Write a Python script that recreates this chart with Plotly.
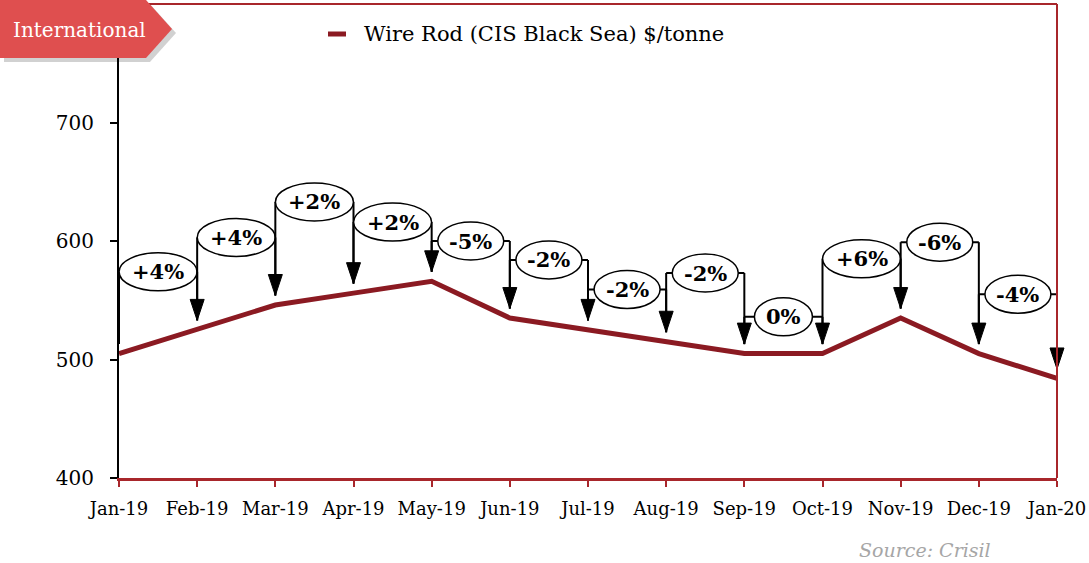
import plotly.graph_objects as go

# data
months = ["Jan-19", "Feb-19", "Mar-19", "Apr-19", "May-19", "Jun-19", "Jul-19",
          "Aug-19", "Sep-19", "Oct-19", "Nov-19", "Dec-19", "Jan-20"]
price = [505, 525, 546, 556, 566, 535, 525, 515, 505, 505, 535, 505, 484]
changes = ["+4%", "+4%", "+2%", "+2%", "-5%", "-2%", "-2%", "-2%", "0%", "+6%", "-6%", "-4%"]
# height (in $/tonne) at which each change bubble sits
bubble_level = [574, 603, 633, 616, 600, 584, 559, 573, 536, 585, 599, 555]

LINE_RED = "#8B1A22"
FRAME_RED = "#A8262B"
SERIF = "DejaVu Serif"

# figure geometry (pixels)
W, H = 1089, 563
L, R, T, B = 119, 32, 4, 85
PW, PH = W - L - R, H - T - B
N = len(months) - 1  # x axis runs 0..N


def px(x):
    return (x - L) / PW


def py(y):
    return (H - B - y) / PH


def xp(i):
    # x position (paper) of month index i, so brackets are not clipped at the frame
    return i / N


def bubble_width(s):
    w = {"+": 20, "-": 8, "%": 20}
    return 24 + sum(w.get(c, 14) for c in s)


fig = go.Figure()
fig.add_trace(go.Scatter(
    x=list(range(len(months))), y=price, mode="lines",
    line=dict(color=LINE_RED, width=5), showlegend=False, hoverinfo="skip",
))

shapes = []
annotations = []
gap = 8
blk = dict(color="black", width=2)
for i, lab in enumerate(changes):
    lvl = bubble_level[i]
    tip_l = price[i] + gap
    tip_r = price[i + 1] + gap
    # left riser, top bar, right drop
    shapes.append(dict(type="line", xref="paper", x0=xp(i), x1=xp(i), y0=tip_l, y1=lvl, line=blk))
    shapes.append(dict(type="line", xref="paper", x0=xp(i), x1=xp(i + 1), y0=lvl, y1=lvl, line=blk))
    shapes.append(dict(type="line", xref="paper", x0=xp(i + 1), x1=xp(i + 1), y0=lvl, y1=tip_r, line=blk))
    # arrowhead
    shapes.append(dict(type="path", xref="paper", xsizemode="pixel", ysizemode="pixel",
                       xanchor=xp(i + 1), yanchor=tip_r,
                       path="M-7,21 L7,21 L0,0 Z",
                       fillcolor="black", line=dict(color="black", width=1)))
    # bubble
    bw = bubble_width(lab)
    shapes.append(dict(type="circle", xsizemode="pixel", ysizemode="pixel",
                       xanchor=i + 0.5, yanchor=lvl,
                       x0=-bw / 2, x1=bw / 2, y0=-19, y1=19,
                       fillcolor="white", line=dict(color="black", width=1.5)))
    annotations.append(dict(x=i + 0.5, y=lvl, text="<b>%s</b>" % lab, showarrow=False,
                            xanchor="center", yanchor="middle",
                            font=dict(family=SERIF, size=21, color="black")))

# frame top / right
shapes.append(dict(type="line", xref="paper", yref="paper", x0=0, x1=1, y0=1, y1=1,
                   line=dict(color=FRAME_RED, width=2)))
shapes.append(dict(type="line", xref="paper", yref="paper", x0=1, x1=1, y0=0, y1=1,
                   line=dict(color=FRAME_RED, width=2)))


# "International" tag with shadow
def tag_path(dx, dy):
    pts = [(0, 0), (146, 0), (172, 29), (146, 58), (0, 58)]
    return "M" + " L".join("%.4f,%.4f" % (px(x + dx), py(y + dy)) for x, y in pts) + " Z"


shapes.append(dict(type="path", xref="paper", yref="paper", path=tag_path(4, 4),
                   fillcolor="rgba(0,0,0,0.18)", line=dict(width=0)))
shapes.append(dict(type="path", xref="paper", yref="paper", path=tag_path(0, 0),
                   fillcolor="#DF4F4F", line=dict(width=0)))
annotations.append(dict(xref="paper", yref="paper", x=px(79), y=py(30), text="International",
                        xanchor="center", yanchor="middle", showarrow=False,
                        font=dict(family=SERIF, size=20, color="white")))

# legend
shapes.append(dict(type="line", xref="paper", yref="paper", x0=px(328), x1=px(346),
                   y0=py(34), y1=py(34), line=dict(color=LINE_RED, width=5)))
annotations.append(dict(xref="paper", yref="paper", x=px(362), y=py(34),
                        xanchor="left", yanchor="middle",
                        text="Wire Rod (CIS Black Sea) $/tonne", showarrow=False,
                        font=dict(family=SERIF, size=21, color="black")))

# source
annotations.append(dict(xref="paper", yref="paper", x=px(993), y=py(550),
                        xanchor="right", yanchor="middle",
                        text="<i>Source: Crisil</i>", showarrow=False,
                        font=dict(family=SERIF, size=19, color="#A6A6A6")))

fig.update_layout(
    width=W, height=H,
    margin=dict(l=L, r=R, t=T, b=B),
    plot_bgcolor="white", paper_bgcolor="white",
    shapes=shapes, annotations=annotations,
    xaxis=dict(range=[0, N], tickvals=list(range(len(months))), ticktext=months,
               showgrid=False, zeroline=False, showline=True, linecolor=FRAME_RED, linewidth=3,
               ticks="outside", tickcolor=FRAME_RED, ticklen=6, tickwidth=2,
               ticklabelstandoff=6,
               tickfont=dict(family=SERIF, size=18, color="black")),
    yaxis=dict(range=[400, 800], tickvals=[400, 500, 600, 700],
               showgrid=False, zeroline=False, showline=True, linecolor="black", linewidth=2,
               ticks="outside", tickcolor="black", ticklen=7, tickwidth=2,
               ticklabelstandoff=12,
               tickfont=dict(family=SERIF, size=20, color="black")),
)

fig.write_html("out.html", config={"displayModeBar": False},
               post_script="document.body.style.margin='0';")
